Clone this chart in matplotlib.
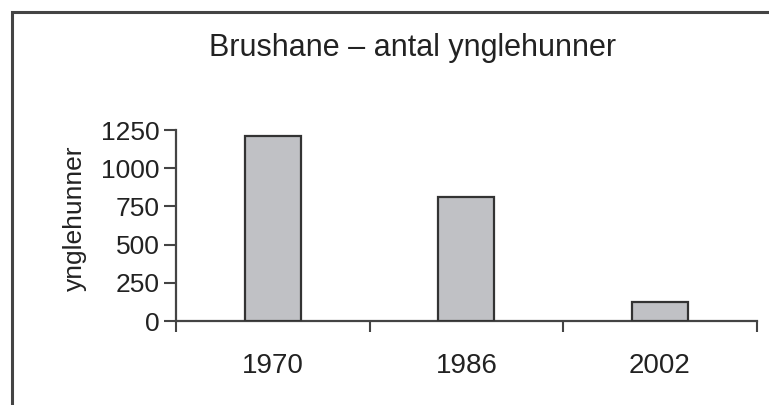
import matplotlib.pyplot as plt
from matplotlib.patches import Rectangle

# data
years = ['1970', '1986', '2002']
hunner = [1210, 810, 125]
y_ticks = [0, 250, 500, 750, 1000, 1250]

plt.rcParams['font.family'] = ['Liberation Sans', 'DejaVu Sans']

fig = plt.figure(figsize=(7.69, 4.05), dpi=100)
ax = fig.add_axes([0.229, 0.2074, 0.755, 0.4716])

pos = list(range(len(years)))
ax.bar(pos, hunner, width=0.29, color='#c0c1c5', edgecolor='#333333', linewidth=1.6, zorder=3)

ax.set_xlim(-0.5, len(years) - 0.5)
ax.set_ylim(0, 1250)
ax.set_yticks(y_ticks)
ax.set_yticklabels([str(v) for v in y_ticks], fontsize=19, color='#222222')

# ticks between categories, labels under the bars
ax.set_xticks([p - 0.5 for p in pos] + [len(years) - 0.5])
ax.set_xticklabels([])
ax.set_xticks(pos, minor=True)
ax.set_xticklabels(years, minor=True, fontsize=20, color='#222222')
ax.tick_params(axis='x', which='major', length=8, width=1.5, color='#444444', direction='out')
ax.tick_params(axis='x', which='minor', length=0, pad=23)
ax.tick_params(axis='y', length=9, width=1.5, color='#444444', pad=3)

for s in ['top', 'right']:
    ax.spines[s].set_visible(False)
for s in ['left', 'bottom']:
    ax.spines[s].set_color('#444444')
    ax.spines[s].set_linewidth(1.6)

fig.text(0.097, 0.46, 'ynglehunner', rotation=90, fontsize=19, color='#222222',
         ha='center', va='center')
fig.text(0.537, 0.881, 'Brushane \u2013 antal ynglehunner', fontsize=22, color='#222222',
         ha='center', va='center')

# outer frame around the figure
fig.patches.append(Rectangle((0.0156, -0.05), 1.1, 1.02, transform=fig.transFigure,
                             fill=False, edgecolor='#444444', linewidth=2.2))

fig.savefig('out.png', dpi=100)
